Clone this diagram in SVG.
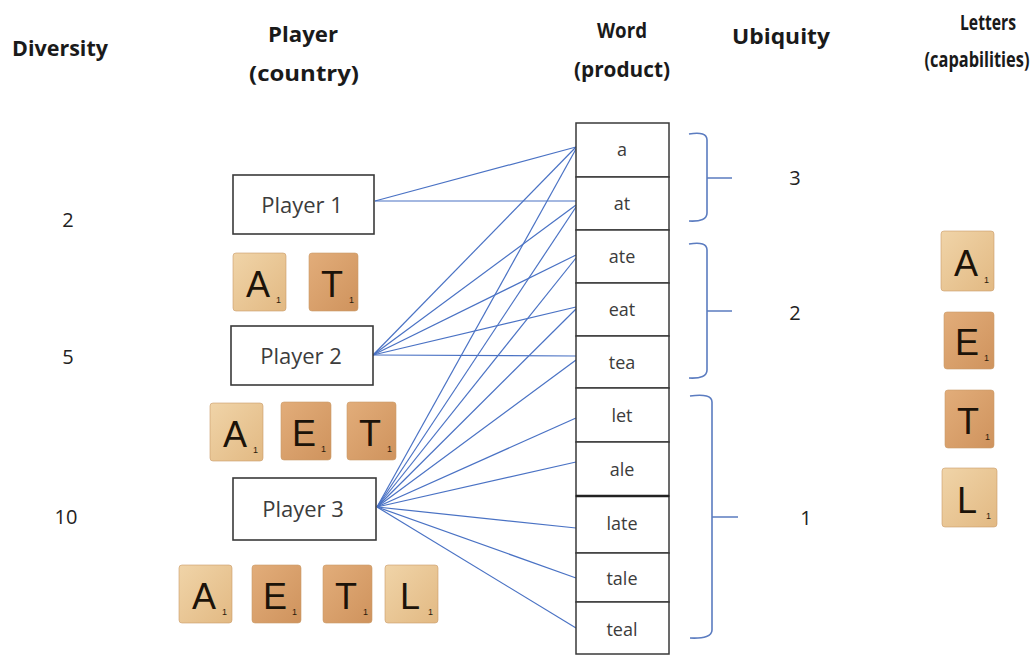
<svg xmlns="http://www.w3.org/2000/svg" width="1036" height="655" viewBox="0 0 1036 655">
  <style>
    .hdr { font-family: "Open Sans", "Liberation Sans", sans-serif; font-weight: 700; font-size: 21px; fill: #1a1a1a; }
    .num { font-family: "Open Sans", "Liberation Sans", sans-serif; font-size: 20px; fill: #222; text-anchor: middle; }
    .box { fill: #fff; stroke: #3a3a3a; stroke-width: 1.6; }
    .plabel { font-family: "Open Sans", "Liberation Sans", sans-serif; font-size: 22px; fill: #3c3c3c; text-anchor: middle; }
    .cell { fill: #fff; stroke: #3a3a3a; stroke-width: 1.5; }
    .wlabel { font-family: "Open Sans", "Liberation Sans", sans-serif; font-size: 18px; fill: #3c3c3c; text-anchor: middle; }
    .link { stroke: #4a72c4; stroke-width: 1.2; fill: none; }
    .brace { stroke: #5b7cc0; stroke-width: 1.6; fill: none; }
    .light { fill: url(#woodLight); }
    .dark { fill: url(#woodDark); }
    .tile rect { stroke: #c99b68; stroke-width: 0.6; }
    .letter { font-family: "Liberation Sans", "DejaVu Sans", sans-serif; font-size: 36px; fill: #1c1309; text-anchor: middle; }
    .sub { font-family: "Liberation Sans", "DejaVu Sans", sans-serif; font-size: 9px; fill: #2a1b0c; }
  </style>
  <defs>
    <linearGradient id="woodLight" x1="0" y1="0" x2="1" y2="1">
      <stop offset="0" stop-color="#f0d4a8"/>
      <stop offset="1" stop-color="#e2b983"/>
    </linearGradient>
    <linearGradient id="woodDark" x1="0" y1="0" x2="1" y2="1">
      <stop offset="0" stop-color="#e2ad7a"/>
      <stop offset="1" stop-color="#cf935d"/>
    </linearGradient>
  </defs>

  <rect width="1036" height="655" fill="#fff"/>

  <!-- column headers -->
  <g id="headers">
    <text class="hdr" x="12" y="56" textLength="96" lengthAdjust="spacingAndGlyphs">Diversity</text>
    <text class="hdr" x="268" y="42" textLength="70" lengthAdjust="spacingAndGlyphs">Player</text>
    <text class="hdr" x="249" y="81" textLength="110" lengthAdjust="spacingAndGlyphs">(country)</text>
    <text class="hdr" x="597" y="38" textLength="50" lengthAdjust="spacingAndGlyphs">Word</text>
    <text class="hdr" x="574" y="77" textLength="96" lengthAdjust="spacingAndGlyphs">(product)</text>
    <text class="hdr" x="732" y="44" textLength="98" lengthAdjust="spacingAndGlyphs">Ubiquity</text>
    <text class="hdr" x="960" y="30" textLength="56" lengthAdjust="spacingAndGlyphs">Letters</text>
    <!-- condensed horizontally so the label stays inside the right edge -->
    <text class="hdr" text-anchor="middle" transform="translate(977,67) scale(0.78,1)">(capabilities)</text>
  </g>

  <!-- diversity values -->
  <g id="diversity">
    <text class="num" x="68" y="227">2</text>
    <text class="num" x="68" y="364">5</text>
    <text class="num" x="66" y="524">10</text>
  </g>

  <!-- ubiquity values -->
  <g id="ubiquity">
    <text class="num" x="795" y="185">3</text>
    <text class="num" x="795" y="320">2</text>
    <text class="num" x="806" y="525">1</text>
  </g>

  <!-- connectors: player to word -->
  <g id="connectors">
    <line class="link" x1="375" y1="201" x2="576" y2="147"/>
    <line class="link" x1="375" y1="201" x2="576" y2="201"/>

    <line class="link" x1="373" y1="355" x2="576" y2="147"/>
    <line class="link" x1="373" y1="355" x2="576" y2="205"/>
    <line class="link" x1="373" y1="355" x2="576" y2="255"/>
    <line class="link" x1="373" y1="355" x2="576" y2="307"/>
    <line class="link" x1="373" y1="355" x2="576" y2="356"/>

    <line class="link" x1="377" y1="507" x2="576" y2="149"/>
    <line class="link" x1="377" y1="507" x2="576" y2="207"/>
    <line class="link" x1="377" y1="507" x2="576" y2="258"/>
    <line class="link" x1="377" y1="507" x2="576" y2="309"/>
    <line class="link" x1="377" y1="507" x2="576" y2="360"/>
    <line class="link" x1="377" y1="507" x2="576" y2="418"/>
    <line class="link" x1="377" y1="507" x2="576" y2="462"/>
    <line class="link" x1="377" y1="507" x2="576" y2="528"/>
    <line class="link" x1="377" y1="507" x2="576" y2="578"/>
    <line class="link" x1="377" y1="507" x2="576" y2="628"/>
  </g>

  <!-- ubiquity braces -->
  <g id="braces">
    <path class="brace" d="M689,134 Q707,131 707,140 V213 Q707,222 689,221 M707,178 H732"/>
    <path class="brace" d="M689,244 Q707,241 707,250 V370 Q707,379 689,378 M707,311 H732"/>
    <path class="brace" d="M690,396 Q712,393 712,402 V630 Q712,639 690,638 M712,517 H738"/>
  </g>

  <!-- players -->
  <g id="player1">
    <rect class="box" x="233" y="175" width="141" height="59"/>
    <text class="plabel" x="302" y="213">Player 1</text>
  </g>
  <g id="player2">
    <rect class="box" x="231" y="326" width="142" height="59"/>
    <text class="plabel" x="301" y="364">Player 2</text>
  </g>
  <g id="player3">
    <rect class="box" x="233" y="478" width="143" height="62"/>
    <text class="plabel" x="303" y="517">Player 3</text>
  </g>

  <!-- words -->
  <g id="word-a"><rect class="cell" x="576" y="123" width="93" height="54"/><text class="wlabel" x="622" y="156">a</text></g>
  <g id="word-at"><rect class="cell" x="576" y="177" width="93" height="53"/><text class="wlabel" x="622" y="210">at</text></g>
  <g id="word-ate"><rect class="cell" x="576" y="230" width="93" height="53"/><text class="wlabel" x="622" y="263">ate</text></g>
  <g id="word-eat"><rect class="cell" x="576" y="283" width="93" height="53"/><text class="wlabel" x="622" y="316">eat</text></g>
  <g id="word-tea"><rect class="cell" x="576" y="336" width="93" height="52"/><text class="wlabel" x="622" y="369">tea</text></g>
  <g id="word-let"><rect class="cell" x="576" y="388" width="93" height="54"/><text class="wlabel" x="622" y="422">let</text></g>
  <g id="word-ale"><rect class="cell" x="576" y="442" width="93" height="54"/><text class="wlabel" x="622" y="476">ale</text></g>
  <g id="word-late"><rect class="cell" x="576" y="496" width="93" height="57"/><text class="wlabel" x="622" y="530">late</text></g>
  <g id="word-tale"><rect class="cell" x="576" y="553" width="93" height="49"/><text class="wlabel" x="622" y="585">tale</text></g>
  <g id="word-teal"><rect class="cell" x="576" y="602" width="93" height="52"/><text class="wlabel" x="622" y="636">teal</text></g>
  <line x1="576" y1="496" x2="669" y2="496" stroke="#222" stroke-width="2.4"/>

  <!-- letter tiles held by Player 1 -->
  <g id="tiles-player1">
    <g class="tile" transform="translate(233,253)"><rect class="light" width="53" height="58" rx="3"/><text class="letter" x="25" y="44">A</text><text class="sub" x="43" y="50">1</text></g>
    <g class="tile" transform="translate(309,253)"><rect class="dark" width="49" height="58" rx="3"/><text class="letter" x="23" y="44">T</text><text class="sub" x="40" y="50">1</text></g>
  </g>

  <!-- letter tiles held by Player 2 -->
  <g id="tiles-player2">
    <g class="tile" transform="translate(210,403)"><rect class="light" width="53" height="58" rx="3"/><text class="letter" x="25" y="44">A</text><text class="sub" x="43" y="50">1</text></g>
    <g class="tile" transform="translate(281,402)"><rect class="dark" width="50" height="58" rx="3"/><text class="letter" x="23" y="44">E</text><text class="sub" x="40" y="50">1</text></g>
    <g class="tile" transform="translate(347,402)"><rect class="dark" width="49" height="58" rx="3"/><text class="letter" x="23" y="44">T</text><text class="sub" x="40" y="50">1</text></g>
  </g>

  <!-- letter tiles held by Player 3 -->
  <g id="tiles-player3">
    <g class="tile" transform="translate(179,565)"><rect class="light" width="53" height="58" rx="3"/><text class="letter" x="25" y="44">A</text><text class="sub" x="43" y="50">1</text></g>
    <g class="tile" transform="translate(252,565)"><rect class="dark" width="49" height="58" rx="3"/><text class="letter" x="23" y="44">E</text><text class="sub" x="40" y="50">1</text></g>
    <g class="tile" transform="translate(323,565)"><rect class="dark" width="49" height="58" rx="3"/><text class="letter" x="23" y="44">T</text><text class="sub" x="40" y="50">1</text></g>
    <g class="tile" transform="translate(385,565)"><rect class="light" width="53" height="58" rx="3"/><text class="letter" x="25" y="44">L</text><text class="sub" x="43" y="50">1</text></g>
  </g>

  <!-- capability letters -->
  <g id="tiles-letters">
    <g class="tile" transform="translate(941,231)"><rect class="light" width="53" height="60" rx="3"/><text class="letter" x="25" y="45">A</text><text class="sub" x="43" y="52">1</text></g>
    <g class="tile" transform="translate(944,312)"><rect class="dark" width="50" height="57" rx="3"/><text class="letter" x="23" y="43">E</text><text class="sub" x="40" y="49">1</text></g>
    <g class="tile" transform="translate(945,390)"><rect class="dark" width="49" height="58" rx="3"/><text class="letter" x="23" y="44">T</text><text class="sub" x="40" y="50">1</text></g>
    <g class="tile" transform="translate(942,468)"><rect class="light" width="55" height="59" rx="3"/><text class="letter" x="25" y="45">L</text><text class="sub" x="44" y="51">1</text></g>
  </g>
</svg>
